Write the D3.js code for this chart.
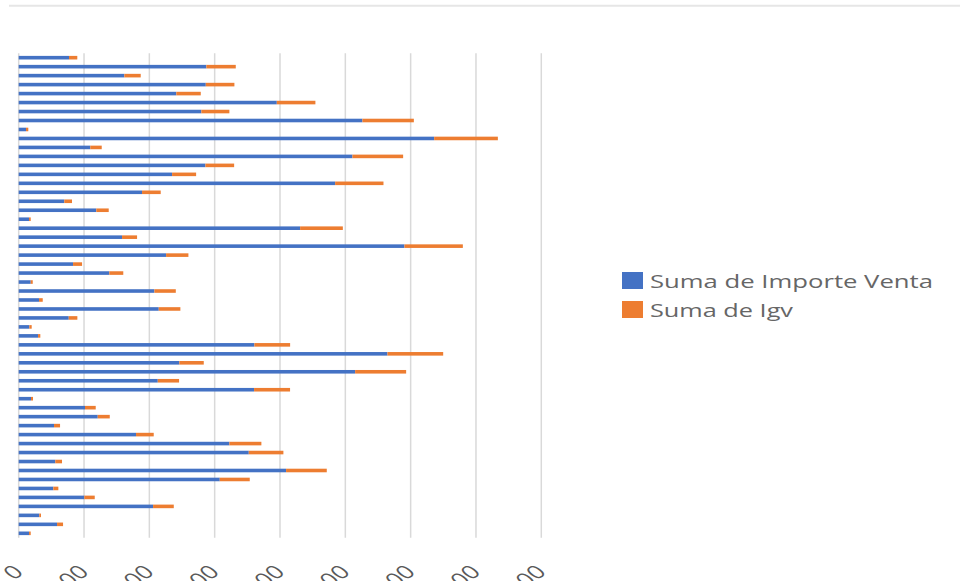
<!DOCTYPE html>
<html>
<head>
<meta charset="utf-8">
<script src="https://cdn.jsdelivr.net/npm/d3@7"></script>
<style>
  html, body { margin: 0; padding: 0; background: #ffffff; }
  svg { display: block; }
  text { font-family: "Open Sans", "Noto Sans", sans-serif; }
</style>
</head>
<body>
<svg id="chart" width="963" height="581"></svg>
<script>
// ---- data ----
const categories = d3.range(1, 55).map(i => "Fila " + i);
const importeVenta = [
  770, 2873, 1617, 2864, 2413, 3951, 2796, 5262, 112, 6360,
  1096, 5109, 2858, 2348, 4844, 1888, 698, 1188, 158, 4308,
  1582, 5905, 2256, 832, 1387, 184, 2077, 311, 2144, 766,
  162, 296, 3608, 5645, 2459, 5150, 2129, 3603, 188, 1015,
  1210, 541, 1796, 3225, 3522, 560, 4093, 3078, 530, 1005,
  2057, 315, 587, 158
];
const igv = [
  127, 450, 251, 438, 374, 591, 429, 787, 35, 975,
  175, 776, 440, 368, 740, 286, 118, 190, 26, 654,
  230, 894, 342, 138, 214, 31, 328, 57, 331, 132,
  37, 35, 547, 853, 374, 781, 326, 551, 31, 164,
  184, 92, 271, 490, 530, 103, 623, 459, 77, 159,
  317, 26, 92, 26
];
const tickValues = [0, 1000, 2000, 3000, 4000, 5000, 6000, 7000, 8000];
const seriesNames = ["Suma de Importe Venta", "Suma de Igv"];
const seriesColors = ["#4472C4", "#ED7D31"];

// ---- layout ----
const svg = d3.select("#chart");
const plot = { left: 18.7, right: 541.3, top: 53.2, bottom: 537.8 };

const x = d3.scaleLinear().domain([0, 8000]).range([plot.left, plot.right]);
const y = d3.scaleBand().domain(categories).range([plot.top, plot.bottom]).paddingInner(0.6).paddingOuter(0.3);

// top separator line
svg.append("line")
  .attr("x1", 9).attr("x2", 960).attr("y1", 5.7).attr("y2", 5.7)
  .attr("stroke", "#e6e6e6").attr("stroke-width", 2);

// gridlines
svg.append("g").selectAll("line").data(tickValues).join("line")
  .attr("x1", d => x(d)).attr("x2", d => x(d))
  .attr("y1", plot.top).attr("y2", plot.bottom)
  .attr("stroke", "#d9d9d9").attr("stroke-width", 1.5);

// stacked bars
const rows = categories.map((c, i) => ({ c, v: importeVenta[i], g: igv[i] }));
const barG = svg.append("g");
barG.selectAll("rect.venta").data(rows).join("rect")
  .attr("class", "venta")
  .attr("x", x(0))
  .attr("y", d => y(d.c))
  .attr("width", d => x(d.v) - x(0))
  .attr("height", y.bandwidth())
  .attr("fill", seriesColors[0]);
barG.selectAll("rect.igv").data(rows).join("rect")
  .attr("class", "igv")
  .attr("x", d => x(d.v))
  .attr("y", d => y(d.c))
  .attr("width", d => x(d.v + d.g) - x(d.v))
  .attr("height", y.bandwidth())
  .attr("fill", seriesColors[1]);

// x tick labels (rotated, partly cut by the bottom edge, as in the original)
svg.append("g").selectAll("text").data(tickValues).join("text")
  .attr("transform", d => `translate(${x(d) + 6},${573}) scale(1.35,1) rotate(-45)`)
  .attr("text-anchor", "end")
  .attr("font-size", 19)
  .attr("fill", "#595959")
  .text(d => d3.format("d")(d));

// legend
const legend = svg.append("g");
const legY = [272, 301];
const legW = [283, 143];
seriesNames.forEach((name, i) => {
  legend.append("rect")
    .attr("x", 622).attr("y", legY[i])
    .attr("width", 21).attr("height", 17)
    .attr("fill", seriesColors[i]);
  legend.append("text")
    .attr("x", 650).attr("y", legY[i] + 16)
    .attr("font-size", 18)
    .attr("fill", "#666666")
    .attr("textLength", legW[i])
    .attr("lengthAdjust", "spacingAndGlyphs")
    .text(name);
});
</script>
</body>
</html>
